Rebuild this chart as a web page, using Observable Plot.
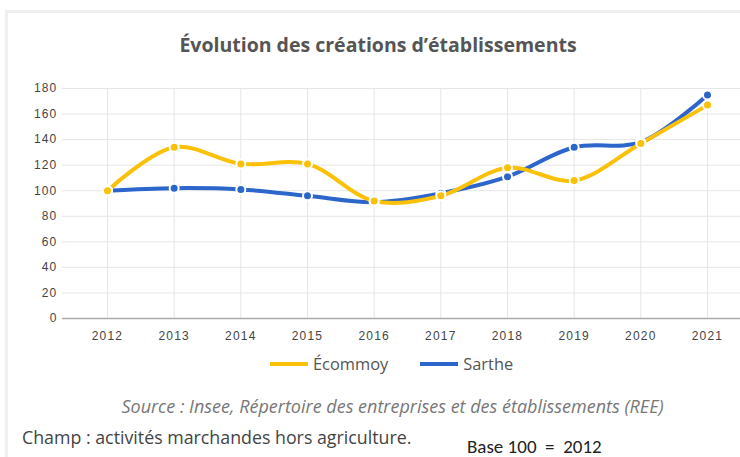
<!DOCTYPE html>
<html><head><meta charset="utf-8">
<script src="https://cdn.jsdelivr.net/npm/d3@7"></script>
<script src="https://cdn.jsdelivr.net/npm/@observablehq/plot@0.6"></script>
<style>
body{margin:0;background:#fff;}
#wrap{position:relative;width:740px;height:457px;overflow:hidden;background:#fff;}
#card{position:absolute;left:5px;top:10px;width:760px;height:470px;border:3px solid #f0f0f0;box-sizing:border-box;}
#chart{position:absolute;left:0;top:0;}
#chart svg text{font-weight:normal;letter-spacing:1.2px;}
.t{position:absolute;white-space:nowrap;font-family:"Open Sans",sans-serif;}
#title{left:0;width:756px;text-align:center;top:31px;font-size:19.5px;font-weight:bold;color:#555;}
#legend{position:absolute;top:352px;left:270px;font-family:"Open Sans",sans-serif;font-size:16.4px;color:#555;display:flex;align-items:center;}
#legend .sw{display:inline-block;width:38px;height:4px;margin-right:5px;}
#source{left:0;width:785px;text-align:center;top:394px;font-size:18px;font-style:italic;color:#777;}
#champ{left:22px;top:425px;font-size:17.8px;color:#444;}
#base{left:467px;top:435px;font-size:19px;color:#222;font-family:Carlito,Calibri,"Liberation Sans",sans-serif;}
</style></head>
<body><div id="wrap">
<div id="card"></div>
<div id="chart"></div>
<div class="t" id="title">Évolution des créations d’établissements</div>
<div id="legend"></div>
<div class="t" id="source">Source : Insee, Répertoire des entreprises et des établissements (REE)</div>
<div class="t" id="champ">Champ : activités marchandes hors agriculture.</div>
<div class="t" id="base">Base 100&nbsp; =&nbsp; 2012</div>
</div>
<script>
const years = [2012,2013,2014,2015,2016,2017,2018,2019,2020,2021];
const ecommoy = [100,134,121,121,92,96,118,108,137,167];
const sarthe = [100,102,101,96,91,98,111,134,138,175];
const seriesNames = ["Écommoy","Sarthe"];
const seriesColors = ["#FBC108","#2D66CB"];
const yTicks = [0,20,40,60,80,100,120,140,160,180];

// Sarthe drawn first so Écommoy sits on top
const data = [];
years.forEach((y,i)=> data.push({year:y, value:sarthe[i], s:seriesNames[1]}));
years.forEach((y,i)=> data.push({year:y, value:ecommoy[i], s:seriesNames[0]}));

const plot = Plot.plot({
  width:740, height:358,
  marginTop:88, marginBottom:40, marginLeft:62, marginRight:0,
  style:{fontFamily:"'Liberation Sans',Arial,sans-serif", fontSize:"12px", color:"#444", background:"transparent"},
  x:{domain:[2012,2021], range:[107,707], ticks:years, tickFormat:d=>String(d), tickSize:0, tickPadding:13, label:null},
  y:{domain:[0,180], ticks:yTicks, tickSize:0, tickPadding:5, label:null},
  color:{domain:seriesNames, range:seriesColors},
  marks:[
    Plot.ruleY(yTicks.filter(d=>d>0), {stroke:"#e6e6e6", strokeWidth:1}),
    Plot.ruleX(years, {y1:0, y2:180, stroke:"#e6e6e6", strokeWidth:1}),
    Plot.ruleY([0], {stroke:"#aaa", strokeWidth:1.5}),
    Plot.line(data, {x:"year", y:"value", stroke:"s", z:"s", strokeWidth:4, curve:"catmull-rom"}),
    Plot.dot(data, {x:"year", y:"value", fill:"s", r:4.5, stroke:"white", strokeWidth:2})
  ]
});
document.getElementById("chart").appendChild(plot);

const lg = document.getElementById("legend");
seriesNames.forEach((n,i)=>{
  const it = document.createElement("span");
  it.style.display="inline-flex"; it.style.alignItems="center"; it.style.marginRight = i===0 ? "32px" : "0";
  it.innerHTML = `<span class="sw" style="background:${seriesColors[i]}"></span>${n}`;
  lg.appendChild(it);
});
</script>
</body></html>
